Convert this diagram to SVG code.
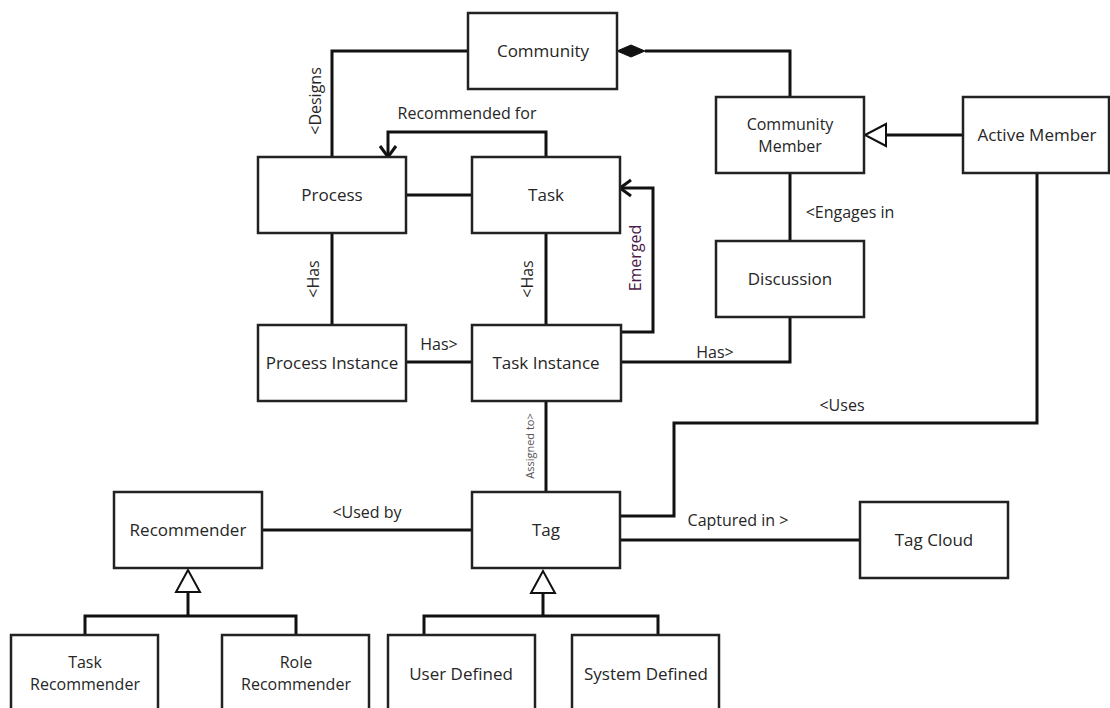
<svg xmlns="http://www.w3.org/2000/svg" width="1110" height="708" viewBox="0 0 1110 708">
<style>
.box{fill:#fff;stroke:#222;stroke-width:2.5}
.t{font-family:"Open Sans","Noto Sans",sans-serif;font-size:17px;fill:#262626;text-anchor:middle;dominant-baseline:central}
.t2{font-family:"Open Sans","Noto Sans",sans-serif;font-size:16px;fill:#262626;text-anchor:middle;dominant-baseline:central}
.lbl{font-family:"Open Sans","Noto Sans",sans-serif;font-size:16px;fill:#262626;text-anchor:middle;dominant-baseline:central}
.c{fill:none;stroke:#111;stroke-width:3}
.gen{fill:#fff;stroke:#111;stroke-width:2}
</style>
<rect width="1110" height="708" fill="#fff"/>
<g id="connectors">
<polyline class="c" points="468,51 332,51 332,157"/>
<polyline class="c" points="546,157 546,132 388,132 388,157"/>
<polyline class="c" points="380,146 388,157 396,146"/>
<line class="c" x1="406" y1="195" x2="472" y2="195"/>
<polyline class="c" points="620,332 653,332 653,188 620,188"/>
<polyline class="c" points="631,180 620,188 631,196"/>
<line class="c" x1="332" y1="233" x2="332" y2="325"/>
<line class="c" x1="546" y1="233" x2="546" y2="325"/>
<line class="c" x1="406" y1="362" x2="472" y2="362"/>
<polyline class="c" points="645,51 790,51 790,97"/>
<polygon points="617,51 631,45 645,51 631,57" fill="#111" stroke="#111" stroke-width="1"/>
<line class="c" x1="886" y1="135" x2="963" y2="135"/>
<polygon class="gen" points="865,135 886,124 886,146"/>
<line class="c" x1="790" y1="173" x2="790" y2="241"/>
<polyline class="c" points="790,317 790,362 620,362"/>
<line class="c" x1="546" y1="401" x2="546" y2="492"/>
<polyline class="c" points="1037,173 1037,423 674,423 674,516 620,516"/>
<line class="c" x1="620" y1="540" x2="860" y2="540"/>
<line class="c" x1="262" y1="530" x2="472" y2="530"/>
<polyline class="c" points="188,592 188,616"/>
<polyline class="c" points="85,635 85,616 296,616 296,635"/>
<polygon class="gen" points="188,570 176,592 200,592"/>
<polyline class="c" points="543,592 543,616"/>
<polyline class="c" points="424,635 424,616 658,616 658,635"/>
<polygon class="gen" points="543,571 531,593 555,593"/>
<text class="lbl" transform="rotate(-90 315 101)" x="315" y="101">&lt;Designs</text>
<text class="lbl" x="467" y="113">Recommended for</text>
<text class="lbl" transform="rotate(-90 313 279)" x="313" y="279">&lt;Has</text>
<text class="lbl" transform="rotate(-90 527 279)" x="527" y="279">&lt;Has</text>
<text class="lbl" transform="rotate(-90 635 258)" x="635" y="258" style="fill:#4a1a4a">Emerged</text>
<text class="lbl" x="439" y="344">Has&gt;</text>
<text class="lbl" x="715" y="352">Has&gt;</text>
<text class="lbl" x="850" y="212">&lt;Engages in</text>
<text class="lbl" x="842" y="405">&lt;Uses</text>
<text class="lbl" x="738" y="520">Captured in &gt;</text>
<text class="lbl" x="367" y="512">&lt;Used by</text>
<text class="lbl" transform="rotate(-90 529 446)" x="529" y="446" style="font-size:11px;fill:#555">Assigned to&gt;</text>
</g>
<g id="community"><rect class="box" x="468" y="13" width="149" height="76"/><text class="t" x="543" y="50">Community</text></g>
<g id="process"><rect class="box" x="258" y="157" width="148" height="76"/><text class="t" x="332" y="194">Process</text></g>
<g id="task"><rect class="box" x="472" y="157" width="148" height="76"/><text class="t" x="546" y="194">Task</text></g>
<g id="community-member"><rect class="box" x="716" y="97" width="148" height="76"/><text class="t2" x="790" y="124">Community<tspan x="790" dy="22">Member</tspan></text></g>
<g id="active-member"><rect class="box" x="963" y="97" width="146" height="76"/><text class="t" x="1037" y="134">Active Member</text></g>
<g id="discussion"><rect class="box" x="716" y="241" width="148" height="76"/><text class="t" x="790" y="278">Discussion</text></g>
<g id="process-instance"><rect class="box" x="258" y="325" width="148" height="76"/><text class="t" x="332" y="362">Process Instance</text></g>
<g id="task-instance"><rect class="box" x="472" y="325" width="149" height="76"/><text class="t" x="546" y="362">Task Instance</text></g>
<g id="tag"><rect class="box" x="472" y="492" width="148" height="76"/><text class="t" x="546" y="529">Tag</text></g>
<g id="recommender"><rect class="box" x="114" y="492" width="148" height="76"/><text class="t" x="188" y="529">Recommender</text></g>
<g id="tag-cloud"><rect class="box" x="860" y="502" width="148" height="76"/><text class="t" x="934" y="539">Tag Cloud</text></g>
<g id="task-recommender"><rect class="box" x="11" y="635" width="147" height="80"/><text class="t2" x="85" y="662">Task<tspan x="85" dy="22">Recommender</tspan></text></g>
<g id="role-recommender"><rect class="box" x="222" y="635" width="147" height="80"/><text class="t2" x="296" y="662">Role<tspan x="296" dy="22">Recommender</tspan></text></g>
<g id="user-defined"><rect class="box" x="388" y="635" width="147" height="80"/><text class="t" x="461" y="673">User Defined</text></g>
<g id="system-defined"><rect class="box" x="572" y="635" width="147" height="80"/><text class="t" x="646" y="673">System Defined</text></g>
</svg>
